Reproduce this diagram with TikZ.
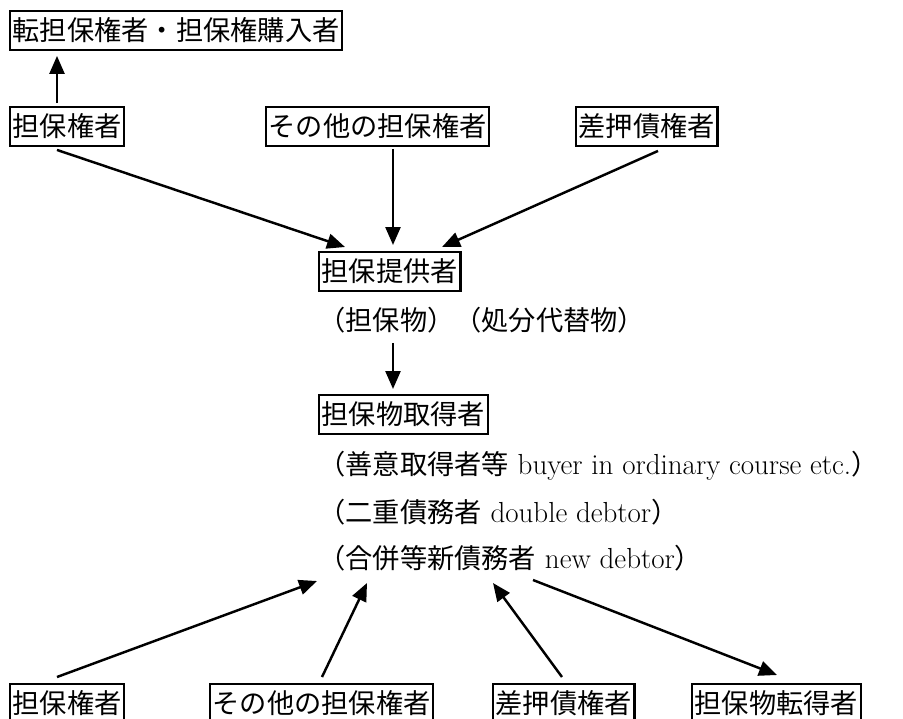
\documentclass[tikz,border=0pt]{standalone}
\usepackage{fontspec}
\newfontfamily\jpfont{Noto Sans CJK JP}
\newcommand\jptext[1]{{\jpfont\fontsize{15.5}{18}\selectfont #1}}
\usetikzlibrary{arrows.meta,calc}

\tikzset{
    tag/.style={draw, line width=1.2pt, anchor=north west, inner xsep=1.5pt, inner ysep=3.3pt,
                text height=13.6pt, text depth=1.9pt, font=\jpfont\fontsize{15.5}{18}\selectfont},
    note/.style={anchor=west, inner xsep=0pt, inner ysep=1pt, font=\fontsize{16.5}{19}\selectfont},
    arr/.style={line width=1.4pt, -{Triangle[length=0.36cm, width=0.3cm]}}
}

\begin{document}
\begin{tikzpicture}[x=0.02cm, y=-0.02cm]
            % Frame to fix the page
            \useasboundingbox (0,0) rectangle (903,718);
            % Upper row
            \node[tag] (tenkenja)   at (  9, 10) {転担保権者・担保権購入者};
            \node[tag] (kenjaA)     at (  9,106) {担保権者};
            \node[tag] (sonotaA)    at (265,106) {その他の担保権者};
            \node[tag] (sashiA)     at (575,106) {差押債権者};
            % Middle column
            \node[tag] (teikyo)     at (318,251) {担保提供者};
            \node[note] (buppin)    at (318,320) {\jptext{（担保物）（処分代替物）}};
            \node[tag] (shutoku)    at (318,394) {担保物取得者};
            \node[note] (zeni)      at (318,466) {\jptext{（善意取得者等} buyer in ordinary course etc.\jptext{）}};
            \node[note] (nijuu)     at (318,512) {\jptext{（二重債務者} double debtor\jptext{）}};
            \node[note] (shinsai)   at (318,558) {\jptext{（合併等新債務者} new debtor\jptext{）}};
            % Lower row
            \node[tag] (kenjaB)     at (  9,683) {担保権者};
            \node[tag] (sonotaB)    at (209,683) {その他の担保権者};
            \node[tag] (sashiB)     at (492,683) {差押債権者};
            \node[tag] (tentoku)    at (691,683) {担保物転得者};
            % Arrows into the provider
            \draw[arr] ($(kenjaA.north west)+(48,-3)$)  -- ($(tenkenja.south west)+(48,5)$);
            \draw[arr] ($(kenjaA.south west)+(48,3)$)   -- ($(teikyo.north west)+(27,-4)$);
            \draw[arr] ($(sonotaA.south west)+(128,2)$) -- ($(teikyo.north west)+(75,-6)$);
            \draw[arr] ($(sashiA.south west)+(83,4)$)   -- ($(teikyo.north west)+(124,-4)$);
            \draw[arr] ($(teikyo.south west)+(75,51)$)  -- ($(shutoku.north west)+(75,-5)$);
            % Arrows round the new debtor
            \draw[arr] ($(kenjaB.north west)+(48,-6)$)  -- ($(shinsai.west)+(-1,23)$);
            \draw[arr] ($(sonotaB.north west)+(113,-6)$) -- ($(shinsai.west)+(49,25)$);
            \draw[arr] ($(sashiB.north west)+(70,-6)$)  -- ($(shinsai.west)+(175,25)$);
            \draw[arr] ($(shinsai.west)+(215,22)$)      -- ($(tentoku.north west)+(86,-8)$);
\end{tikzpicture}
\end{document}
